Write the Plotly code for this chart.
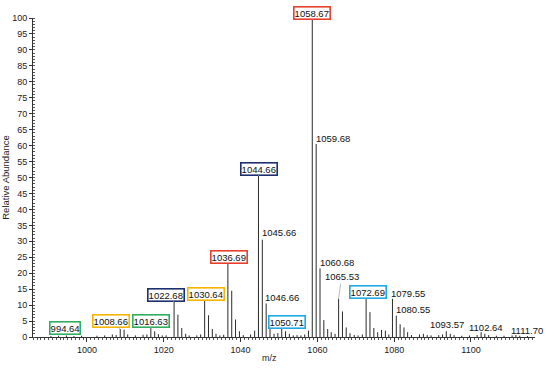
import plotly.graph_objects as go

# ---- data ----
mz = [990.6, 992.6, 994.64, 996.6, 998.6, 1002.6, 1004.6, 1006.6, 1007.6, 1008.66, 1009.66,
      1010.6, 1012.6, 1014.6, 1015.6, 1016.63, 1017.63, 1018.6, 1019.6, 1020.6,
      1022.68, 1023.68, 1024.68, 1025.7, 1026.6, 1028.6, 1029.6,
      1030.64, 1031.64, 1032.64, 1033.6, 1034.6, 1035.6,
      1036.69, 1037.69, 1038.69, 1039.7, 1040.7, 1042.6, 1043.66,
      1044.66, 1045.66, 1046.66, 1047.66, 1048.7, 1049.7, 1050.71, 1051.7, 1052.7,
      1053.7, 1054.7, 1055.7, 1056.7, 1057.67,
      1058.67, 1059.68, 1060.68, 1061.68, 1062.68, 1063.6, 1064.6,
      1065.53, 1066.53, 1067.5, 1068.5, 1069.6, 1070.6, 1071.7,
      1072.69, 1073.69, 1074.7, 1075.7, 1076.7, 1077.7, 1078.6,
      1079.55, 1080.55, 1081.55, 1082.55, 1083.5, 1084.5,
      1086.6, 1087.6, 1088.6, 1089.6, 1091.6, 1092.6, 1093.57, 1094.6, 1095.6,
      1097.6, 1099.6, 1101.6, 1102.64, 1103.6, 1104.6, 1106.6, 1108.6, 1110.7,
      1111.70, 1112.7, 1114.7]
intensity = [0.3, 0.4, 0.5, 0.3, 0.4, 0.4, 0.5, 0.8, 0.6, 2.5, 2.3,
             0.8, 0.5, 0.7, 0.8, 2.8, 1.8, 0.9, 0.5, 0.5,
             11.0, 7.0, 2.8, 1.0, 0.5, 0.5, 0.8,
             11.5, 6.8, 2.5, 1.0, 0.5, 0.7,
             23.5, 14.5, 5.5, 1.8, 0.6, 0.8, 2.0,
             50.5, 30.5, 10.5, 2.5, 1.0, 1.2, 2.6, 1.8, 1.0,
             0.5, 0.6, 0.5, 0.8, 2.0,
             100.0, 60.5, 21.5, 5.3, 2.5, 1.5, 1.0,
             12.0, 8.0, 3.0, 1.2, 0.6, 0.5, 0.8,
             12.5, 7.8, 2.8, 1.5, 2.2, 2.0, 0.8,
             12.0, 6.7, 4.0, 3.0, 1.5, 0.6,
             0.8, 1.0, 0.6, 0.5, 0.6, 0.8, 1.8, 1.0, 0.6,
             0.4, 0.5, 0.6, 1.5, 1.0, 0.6, 0.4, 0.4, 0.5,
             0.6, 0.4, 0.3]

label_mz = [994.64, 1008.66, 1016.63, 1022.68, 1030.64, 1036.69, 1044.66, 1045.66,
            1046.66, 1050.71, 1058.67, 1059.68, 1060.68, 1065.53, 1072.69, 1079.55,
            1080.55, 1093.57, 1102.64, 1111.70]
label_text = ["994.64", "1008.66", "1016.63", "1022.68", "1030.64", "1036.69", "1044.66",
              "1045.66", "1046.66", "1050.71", "1058.67", "1059.68", "1060.68", "1065.53",
              "1072.69", "1079.55", "1080.55", "1093.57", "1102.64", "1111.70"]

x_ticks = [1000, 1020, 1040, 1060, 1080, 1100]
y_ticks = list(range(0, 101, 5))

# ---- styles (label box colours and pixel offsets) ----
GREEN, ORANGE, NAVY, RED, CYAN = "#2fae5f", "#f7b500", "#1c2f6e", "#e8402e", "#1fa8e6"
label_box = [GREEN, ORANGE, GREEN, NAVY, ORANGE, RED, NAVY, None,
             None, CYAN, RED, None, None, None, CYAN, None,
             None, None, None, None]
label_off = [(-1, -7), (-9, -8), (0, -7), (-8, -7), (1, -6), (1, -5), (1, -7), (17, -7),
             (16, -6), (5, -7), (0, -5), (17, -6), (17, -6), (3, -22), (2, -5), (16, -5),
             (17, -6), (1, -7), (5, -5), (11, -5)]

# ---- build stick spectrum ----
sx, sy = [], []
for m, v in zip(mz, intensity):
    sx += [m, m, None]
    sy += [0, v, None]

fig = go.Figure()
fig.add_trace(go.Scatter(x=sx, y=sy, mode="lines",
                         line=dict(color="#2a2a2a", width=1),
                         hoverinfo="skip", showlegend=False, cliponaxis=False))

lookup = dict(zip(mz, intensity))
annotations = []
for m, t, box, (ax, ay) in zip(label_mz, label_text, label_box, label_off):
    v = lookup[m]
    a = dict(x=m, y=v, xref="x", yref="y", text=t,
             showarrow=True, arrowhead=0, arrowwidth=0.8, arrowcolor="#9db09d",
             ax=ax, ay=ay, standoff=0,
             font=dict(family="Liberation Sans, Arial", size=9.5, color="#111"))
    if box:
        a.update(bordercolor=box, borderwidth=1.6, borderpad=0, bgcolor="white")
    annotations.append(a)

annotations.append(dict(text="m/z", xref="paper", yref="paper", x=0.472, y=-0.066,
                        showarrow=False, xanchor="center", yanchor="middle",
                        font=dict(family="Liberation Sans, Arial", size=9, color="#222")))

fig.update_layout(
    width=550, height=369,
    margin=dict(l=33, r=15, t=18, b=32, autoexpand=False),
    paper_bgcolor="white", plot_bgcolor="white",
    font=dict(family="Liberation Sans, Arial", size=9, color="#222"),
    annotations=annotations,
    xaxis=dict(range=[985.94, 1116.67], tickvals=x_ticks, showgrid=False, zeroline=False,
               automargin=False,
               showline=True, linecolor="#333", linewidth=1,
               ticks="outside", ticklen=4, tickcolor="#333",
               minor=dict(dtick=1, tick0=1000, ticks="outside", ticklen=2, tickcolor="#555"),
               tickfont=dict(size=9)),
    yaxis=dict(range=[0, 100], tickvals=y_ticks, showgrid=False, zeroline=False,
               automargin=False,
               showline=True, linecolor="#333", linewidth=1,
               ticks="outside", ticklen=3, tickcolor="#333",
               minor=dict(dtick=1, tick0=0, ticks="inside", ticklen=2, tickcolor="#555"),
               tickfont=dict(size=9),
               title=dict(text="Relative Abundance", standoff=4,
                          font=dict(size=9.5))),
)

fig.write_html("out.html", config={"displayModeBar": False},
               post_script="document.body.style.margin='0px';document.body.style.overflow='hidden';")
